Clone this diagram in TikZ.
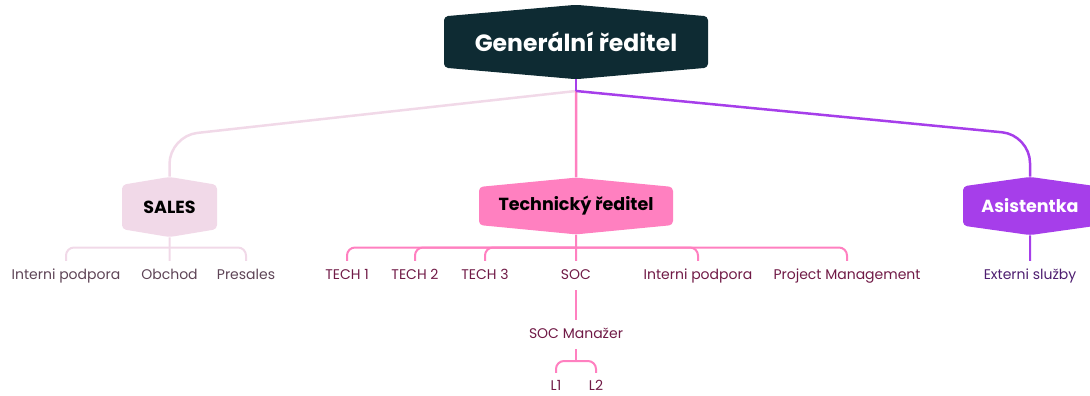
\documentclass[tikz,border=0pt]{standalone}
\usepackage{fontspec}
\setmainfont{Poppins}
\usepackage{tikz}
\usetikzlibrary{shapes.symbols, positioning, calc}
\definecolor{genteal}{RGB}{14, 43, 51}
\definecolor{salespink}{RGB}{241, 217, 232}
\definecolor{techpink}{RGB}{255, 128, 192}
\definecolor{asistpurple}{RGB}{166, 62, 234}
\definecolor{salestext}{RGB}{94, 68, 86}
\definecolor{techtext}{RGB}{112, 26, 70}
\definecolor{asisttext}{RGB}{78, 30, 112}
\tikzset{
    hexbox/.style={signal, signal to=north and south, rounded corners=4pt, inner sep=0pt, text centered, font=\bfseries\fontsize{17.5}{20}\selectfont},
    child/.style={anchor=base, inner xsep=0pt, inner ysep=8pt, text height=10pt, text depth=3pt, font=\fontsize{14}{16}\selectfont},
    salesline/.style={draw=salespink, line width=2.5pt, rounded corners=28pt},
    techline/.style={draw=techpink, line width=2.5pt, rounded corners=9pt},
    asistline/.style={draw=asistpurple, line width=2.5pt, rounded corners=28pt}
}
\begin{document}
\begin{tikzpicture}[x=1pt, y=-1pt]
    \useasboundingbox (0,0) rectangle (1090,396);

    % Top level
    \node[hexbox, fill=genteal, text=white, minimum width=264pt, minimum height=69pt, signal pointer angle=170, font=\bfseries\fontsize{23.5}{26}\selectfont] (gen) at (576,42) {Generální ředitel};

    % Second level
    \node[hexbox, fill=salespink, text=black, minimum width=95pt, minimum height=53pt, signal pointer angle=161] (sales) at (169.5,207) {SALES};
    \node[hexbox, fill=techpink, text=black, minimum width=194pt, minimum height=53pt, signal pointer angle=169] (tech) at (576,206) {Technický ředitel};
    \node[hexbox, fill=asistpurple, text=white, minimum width=134pt, minimum height=53pt, signal pointer angle=164] (asist) at (1030,206) {Asistentka};

    \coordinate (j) at (576,91);
    \coordinate (sbend) at (169.5,136);
    \coordinate (abend) at (1030,135);
    \coordinate (sbar) at (169.5,247.5);
    \coordinate (tbar) at (576,247.5);
    \coordinate (lbar) at (576,361);

    % Sales team
    \node[child, text=salestext] (ip1) at (66,279) {Interni podpora};
    \node[child, text=salestext] (obchod) at (169.5,279) {Obchod};
    \node[child, text=salestext] (presales) at (246,279) {Presales};

    % Tech team
    \node[child, text=techtext] (t1) at (347,279) {TECH 1};
    \node[child, text=techtext] (t2) at (415,279) {TECH 2};
    \node[child, text=techtext] (t3) at (485,279) {TECH 3};
    \node[child, text=techtext] (soc) at (576,279) {SOC};
    \node[child, text=techtext] (ip2) at (698,279) {Interni podpora};
    \node[child, text=techtext] (pm) at (847,279) {Project Management};
    \node[child, text=techtext] (socm) at (576,338) {SOC Manažer};
    \node[child, text=techtext, inner ysep=7pt] (l1) at (556,390) {L1};
    \node[child, text=techtext, inner ysep=7pt] (l2) at (596,390) {L2};

    % Assistant
    \node[child, text=asisttext] (ext) at (1030,279) {Externi služby};

    % Connectors from the top
    \draw[salesline] (j) -- (sbend) -- (sales);
    \draw[techline] (j) -- (tech);
    \draw[asistline] (gen) -- (j);
    \draw[asistline] (j) -- (abend) -- (asist);

    % Connectors to the teams
    \draw[salesline, line width=2pt] (sales) -- (obchod);
    \foreach \c in {ip1, presales}
        \draw[salesline, line width=2pt, rounded corners=8pt] (sbar) -| (\c);
    \draw[techline, line width=2pt] (tech) -- (soc);
    \foreach \c in {t1, t2, t3, ip2, pm}
        \draw[techline, line width=2pt, rounded corners=8pt] (tbar) -| (\c);
    \draw[techline, line width=2pt] (soc) -- (socm);
    \draw[techline, line width=2pt] (socm) -- (lbar);
    \foreach \c in {l1, l2}
        \draw[techline, line width=2pt, rounded corners=8pt] (lbar) -| (\c);
    \draw[asistline, line width=2pt] (asist) -- (ext);
\end{tikzpicture}
\end{document}
